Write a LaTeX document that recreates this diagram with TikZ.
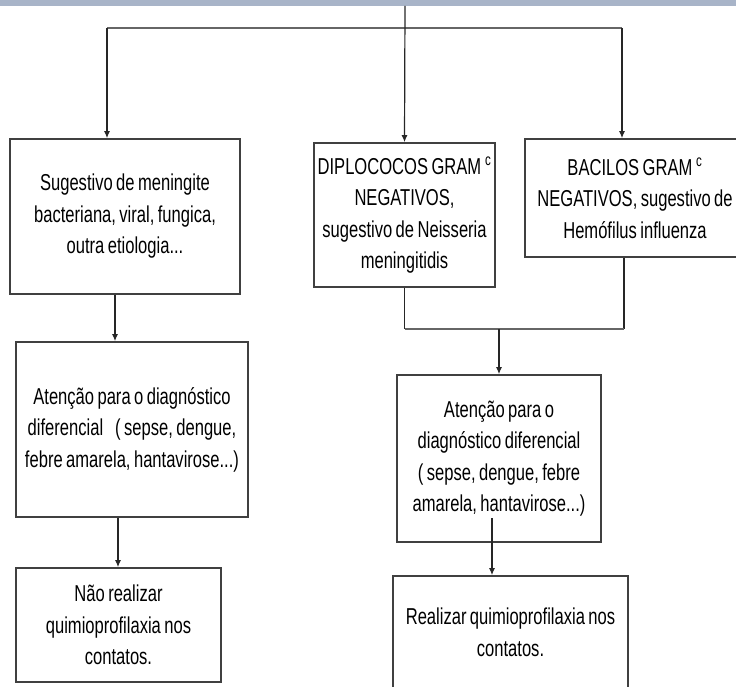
\documentclass[tikz,border=0pt]{standalone}
\usepackage{fontspec}
\setmainfont{Liberation Sans}[FakeStretch=0.72,WordSpace=0.75]
\usetikzlibrary{arrows.meta}
\definecolor{banner}{RGB}{168,180,200}
\tikzset{
BOX/.style={draw=black!75,line width=1.6pt,align=center,inner sep=0pt,font=\fontsize{23}{31.5}\selectfont},
LINK/.style={draw=black!85,line width=1.2pt,-{Latex[length=7pt,width=6pt]}},
WIRE/.style={draw=black!85,line width=1.2pt},
BUS/.style={draw=black!60,line width=2.6pt},
}
\begin{document}
\begin{tikzpicture}[x=1pt,y=-1pt]
	\useasboundingbox (0,0) rectangle (736,687);
	\clip (0,0) rectangle (736,687);
	\fill[banner] (0,0) rectangle (736,6);
	% first row
	\node[BOX,minimum width=230pt,minimum height=155pt] (sug) at (125,216.5) {Sugestivo de meningite\\bacteriana, viral, fungica,\\outra etiologia...};
	\node[BOX,minimum width=181pt,minimum height=144pt] (dip) at (404.5,215) {DIPLOCOCOS GRAM\,\textsuperscript{c}\\NEGATIVOS,\\sugestivo de Neisseria\\meningitidis};
	\node[BOX,minimum width=220pt,minimum height=118pt] (bac) at (635,198) {BACILOS GRAM\,\textsuperscript{c}\\NEGATIVOS, sugestivo de\\Hemófilus influenza};
	% second and third rows
	\node[BOX,minimum width=232pt,minimum height=175pt] (dif1) at (132,429.5) {Atenção para o diagnóstico\\diferencial\hspace{12pt}( sepse, dengue,\\febre amarela, hantavirose...)};
	\node[BOX,minimum width=205pt,minimum height=114pt] (nao) at (118.5,625) {Não realizar\\quimioprofilaxia nos\\contatos.};
	\node[BOX,minimum width=204pt,minimum height=167pt] (dif2) at (499,458.5) {Atenção para o\\diagnóstico diferencial\\( sepse, dengue, febre\\amarela, hantavirose...)};
	\node[BOX,minimum width=235pt,minimum height=113pt] (real) at (510.5,632.5) {Realizar quimioprofilaxia nos\\contatos.};
	% connectors
	\coordinate (top) at (405,6);
	\coordinate (busL) at (107,28);
	\coordinate (busR) at (622,28);
	\coordinate (a1) at (115,0);
	\coordinate (a2) at (118,0);
	\coordinate (b1) at (624,0);
	\coordinate (jn) at (0,329);
	\coordinate (r1) at (492,518);
	\draw[BUS] (busL) -- (busR);
	\draw[LINK] (top) -- (dip.north);
	\draw[LINK] (busL) -- (busL |- sug.north);
	\draw[LINK] (busR) -- (busR |- bac.north);
	\draw[LINK] (sug.south -| a1) -- (dif1.north -| a1);
	\draw[LINK] (dif1.south -| a2) -- (nao.north -| a2);
	\draw[WIRE] (dip.south) -- (dip.south |- jn);
	\draw[WIRE] (bac.south -| b1) -- (jn -| b1);
	\draw[BUS] (jn -| dip.south) -- (jn -| b1);
	\draw[LINK] (jn -| dif2.north) -- (dif2.north);
	\draw[LINK] (r1) -- (r1 |- real.north);
\end{tikzpicture}
\end{document}
